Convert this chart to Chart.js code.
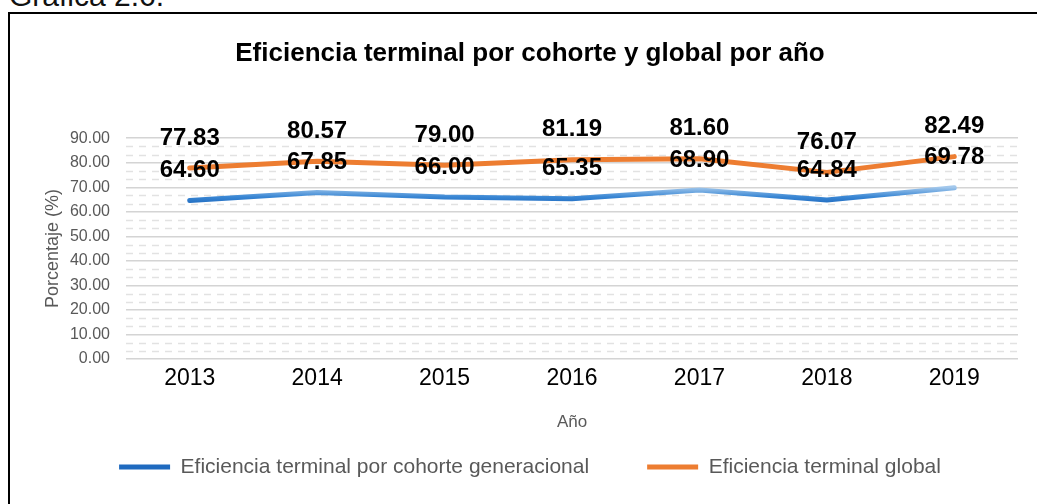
<!DOCTYPE html>
<html>
<head>
<meta charset="utf-8">
<script src="https://cdn.jsdelivr.net/npm/chart.js"></script>
<style>
  html, body { margin: 0; padding: 0; background: #fff; overflow: hidden; }
  #wrap { position: relative; width: 1037px; height: 504px; }
  #caption { position: absolute; left: 9px; top: -19px; font: 30px/30px Arial, "Liberation Sans", sans-serif; color: #111; white-space: nowrap; }
  #frame { position: absolute; left: 8px; top: 12px; width: 1040px; height: 500px; border-top: 2px solid #000; border-left: 2px solid #000; pointer-events: none; }
  #chart-box { position: absolute; left: 0; top: 0; width: 1037px; height: 504px; }
</style>
</head>
<body>
<div id="wrap">
  <div id="caption">Gráfica 2.6.</div>
  <div id="frame"></div>
  <div id="chart-box"><canvas id="chart"></canvas></div>
</div>
<script>
// data
const years = ['2013', '2014', '2015', '2016', '2017', '2018', '2019'];
const cohortValues = [64.60, 67.85, 66.00, 65.35, 68.90, 64.84, 69.78];
const globalValues = [77.83, 80.57, 79.00, 81.19, 81.60, 76.07, 82.49];
const seriesNames = ['Eficiencia terminal por cohorte generacional', 'Eficiencia terminal global'];
const yMin = 0, yMax = 90, yStep = 10;

const FONT = 'Arial, "Liberation Sans", sans-serif';
const LEGEND_TOP = 398.5;

// blue line gets a light/dark shading along its height
function blueStroke(context) {
    const chart = context.chart;
    const area = chart.chartArea;
    if (!area) return '#2e75b6';
    const y = chart.scales.y;
    const g = chart.ctx.createLinearGradient(0, y.getPixelForValue(63), 0, y.getPixelForValue(70));
    g.addColorStop(0, '#1f6abf');
    g.addColorStop(0.45, '#3a87d4');
    g.addColorStop(1, '#a3c8ec');
    return g;
}

// dashed minor gridlines, two per major interval
const minorGrid = {
    id: 'minorGrid',
    beforeDatasetsDraw(chart) {
        const { ctx, chartArea, scales: { y } } = chart;
        ctx.save();
        ctx.strokeStyle = '#e2e2e2';
        ctx.lineWidth = 1.5;
        ctx.setLineDash([7, 6]);
        for (let v = yMin; v < yMax; v += yStep) {
            for (const f of [1 / 3, 2 / 3]) {
                const py = Math.round(y.getPixelForValue(v + yStep * f)) + 0.5;
                ctx.beginPath();
                ctx.moveTo(chartArea.left, py);
                ctx.lineTo(chartArea.right, py);
                ctx.stroke();
            }
        }
        ctx.restore();
    }
};

// value labels above every point
const valueLabels = {
    id: 'valueLabels',
    afterDatasetsDraw(chart) {
        const ctx = chart.ctx;
        ctx.save();
        ctx.font = 'bold 24px ' + FONT;
        ctx.fillStyle = '#000';
        ctx.textAlign = 'center';
        ctx.textBaseline = 'middle';
        chart.data.datasets.forEach((ds, i) => {
            chart.getDatasetMeta(i).data.forEach((pt, j) => {
                ctx.fillText(ds.data[j].toFixed(2), pt.x, pt.y - 30);
            });
        });
        ctx.restore();
    }
};

// legend is laid out small, then moved up and given its full height
// so the wide gap between items does not eat the x axis space
const legendShift = {
    id: 'legendShift',
    afterLayout(chart) {
        const lg = chart.legend;
        if (!lg) return;
        const labels = lg.options.labels;
        const h = labels.padding + labels.font.size + 10;
        lg.top = LEGEND_TOP;
        lg.height = h;
        lg.bottom = LEGEND_TOP + h;
    }
};

new Chart(document.getElementById('chart'), {
    type: 'line',
    data: {
        labels: years,
        datasets: [{
            label: seriesNames[0],
            data: cohortValues,
            borderColor: blueStroke,
            backgroundColor: '#2e75b6',
            borderWidth: 5,
            borderCapStyle: 'round',
            borderJoinStyle: 'round',
            pointRadius: 0,
            tension: 0
        }, {
            label: seriesNames[1],
            data: globalValues,
            borderColor: '#ed7d31',
            backgroundColor: '#ed7d31',
            borderWidth: 5,
            borderCapStyle: 'round',
            borderJoinStyle: 'round',
            pointRadius: 0,
            tension: 0
        }]
    },
    options: {
        responsive: true,
        maintainAspectRatio: false,
        animation: false,
        layout: { padding: { left: 42, right: 19, top: 13, bottom: 30 } },
        plugins: {
            title: {
                display: true,
                text: 'Eficiencia terminal por cohorte y global por año',
                color: '#000',
                font: { family: FONT, size: 26, weight: 'bold' },
                padding: { top: 25, bottom: 69 }
            },
            legend: {
                position: 'bottom',
                maxHeight: 40,
                labels: {
                    usePointStyle: true,
                    pointStyle: 'line',
                    pointStyleWidth: 51,
                    padding: 58,
                    color: '#595959',
                    font: { family: FONT, size: 21 }
                }
            },
            tooltip: { enabled: false }
        },
        scales: {
            x: {
                offset: true,
                grid: { display: false, drawTicks: false },
                border: { display: false },
                ticks: { color: '#000', font: { family: FONT, size: 23 }, padding: 6 },
                title: {
                    display: true,
                    text: 'Año',
                    color: '#595959',
                    font: { family: FONT, size: 17 },
                    padding: { top: 0, bottom: 1 }
                },
                afterFit(scale) { scale.height = 75; }
            },
            y: {
                min: yMin,
                max: yMax,
                ticks: {
                    stepSize: yStep,
                    color: '#595959',
                    font: { family: FONT, size: 16 },
                    padding: 16,
                    callback: v => Number(v).toFixed(2)
                },
                grid: { color: '#d4d4d4', lineWidth: 1.5, drawTicks: false },
                border: { display: false },
                title: {
                    display: true,
                    text: 'Porcentaje (%)',
                    color: '#595959',
                    font: { family: FONT, size: 18 },
                    padding: 0
                },
                afterFit(scale) { scale.width = 84; }
            }
        }
    },
    plugins: [minorGrid, valueLabels, legendShift]
});
</script>
</body>
</html>
